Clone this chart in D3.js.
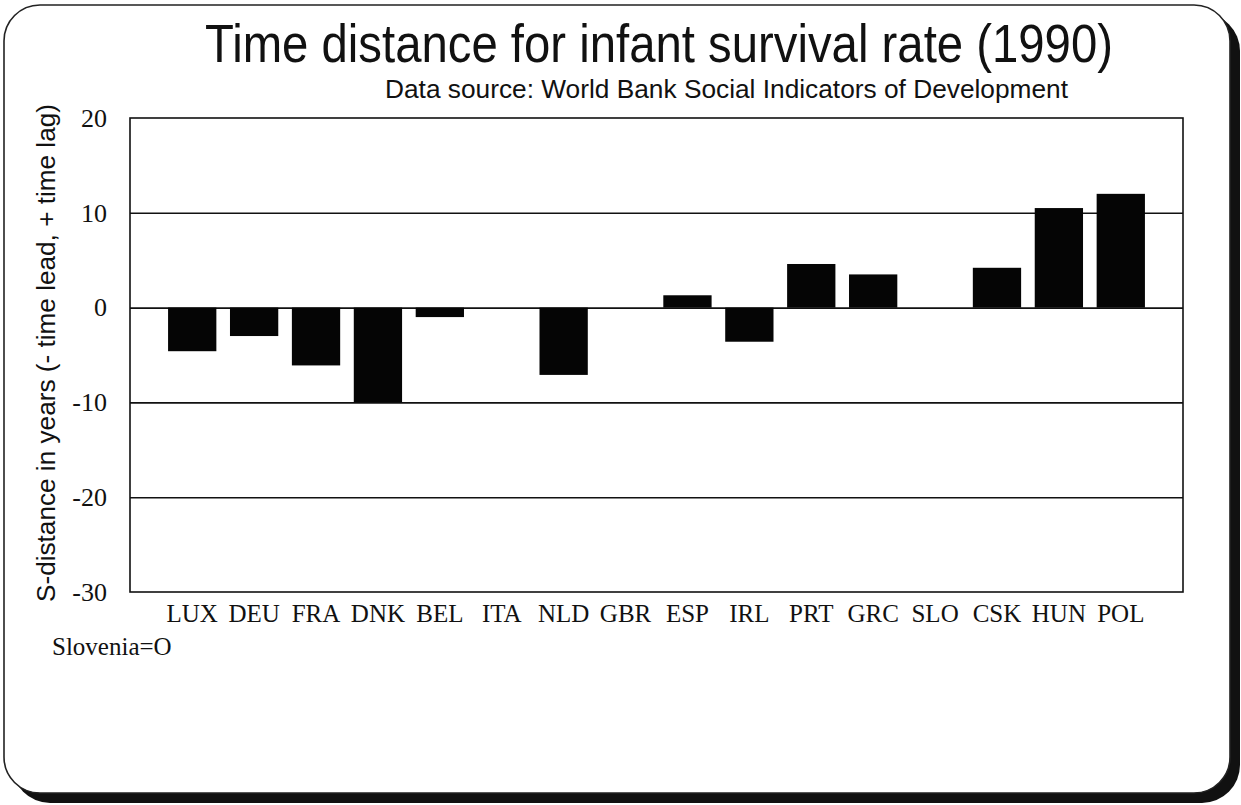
<!DOCTYPE html>
<html>
<head>
<meta charset="utf-8">
<script src="https://cdn.jsdelivr.net/npm/d3@7"></script>
<style>
  body { margin: 0; background: #fff; }
  svg { display: block; }
</style>
</head>
<body>
<div id="chart"></div>
<script>
// country codes along the x axis, in the order of the slide
const countries = ["LUX", "DEU", "FRA", "DNK", "BEL", "ITA", "NLD", "GBR",
                   "ESP", "IRL", "PRT", "GRC", "SLO", "CSK", "HUN", "POL"];
// S-distance in years relative to Slovenia (- lead, + lag)
const sDistance = [-4.6, -3.0, -6.1, -10.0, -1.0, 0, -7.1, 0,
                   1.3, -3.6, 4.6, 3.5, 0, 4.2, 10.5, 12.0];
const yTicks = [20, 10, 0, -10, -20, -30];
const gridTicks = [10, 0, -10, -20];

const titleText = "Time distance for infant survival rate (1990)";
const subtitleText = "Data source: World Bank Social Indicators of Development";
const yTitleText = "S-distance in years (- time lead, + time lag)";
const noteText = "Slovenia=O";

class BarsChart {
    constructor(target, w, h) {
        this.target = target;
        this.w = w;
        this.h = h;
        // plot box inside the slide
        this.left = 130;
        this.right = 1183;
        this.top = 118;
        this.bottom = 592;
    }
    render(cats, values) {
        let svg = d3.select(this.target)
            .append("svg")
            .attr("width", this.w)
            .attr("height", this.h);

        // slide frame: dark shadow offset behind, white card with thin edge on top
        svg.append("rect")
            .attr("x", 12).attr("y", 13)
            .attr("width", 1228).attr("height", 790)
            .attr("rx", 38).attr("ry", 38)
            .style("fill", "#111");
        svg.append("rect")
            .attr("x", 4).attr("y", 5)
            .attr("width", 1226).attr("height", 788)
            .attr("rx", 36).attr("ry", 36)
            .style("fill", "#fff")
            .style("stroke", "#222")
            .style("stroke-width", 1.6);

        let xScale = d3.scaleBand()
            .domain(cats)
            .range([this.left, this.right])
            .paddingInner(0.22)
            .paddingOuter(0.615);

        let yScale = d3.scaleLinear()
            .domain([-30, 20])
            .range([this.bottom, this.top]);

        // horizontal gridlines
        let grid = d3.axisLeft(yScale)
            .tickValues(gridTicks)
            .tickSize(-(this.right - this.left))
            .tickFormat("");
        let g = svg.append("g")
            .attr("transform", "translate(" + this.left + ",0)")
            .call(grid);
        g.select(".domain").remove();
        g.selectAll(".tick line")
            .style("stroke", "#111")
            .style("stroke-width", 1.6);

        // bars, hanging from zero
        svg.append("g")
            .selectAll("rect")
            .data(values)
            .enter()
            .append("rect")
            .attr("x", (d, i) => xScale(cats[i]))
            .attr("y", (d) => yScale(Math.max(0, d)))
            .attr("width", xScale.bandwidth())
            .attr("height", (d) => Math.abs(yScale(d) - yScale(0)))
            .style("fill", "#050505");

        // plot border
        svg.append("rect")
            .attr("x", this.left)
            .attr("y", this.top)
            .attr("width", this.right - this.left)
            .attr("height", this.bottom - this.top)
            .style("fill", "none")
            .style("stroke", "#111")
            .style("stroke-width", 1.6);

        // Y axis labels (plain hyphen, as on the slide)
        let yAxis = d3.axisLeft(yScale)
            .tickValues(yTicks)
            .tickSize(0)
            .tickPadding(23)
            .tickFormat((d) => String(d));
        let ya = svg.append("g")
            .attr("class", "axis")
            .attr("transform", "translate(" + this.left + ",0)")
            .call(yAxis);
        ya.select(".domain").remove();
        ya.selectAll("text")
            .style("font-family", "'Liberation Serif', 'Times New Roman', serif")
            .style("font-size", "26px")
            .style("fill", "#111");

        // X axis labels
        let xAxis = d3.axisBottom(xScale)
            .tickSize(0)
            .tickPadding(12);
        let xa = svg.append("g")
            .attr("class", "axis")
            .attr("transform", "translate(0," + this.bottom + ")")
            .call(xAxis);
        xa.select(".domain").remove();
        xa.selectAll("text")
            .style("font-family", "'Liberation Serif', 'Times New Roman', serif")
            .style("font-size", "25px")
            .style("fill", "#111");

        // titles, squeezed a little like the narrow slide font
        svg.append("text")
            .attr("x", 205).attr("y", 62)
            .attr("textLength", 908)
            .attr("lengthAdjust", "spacingAndGlyphs")
            .style("font-family", "'Liberation Sans', Arial, sans-serif")
            .style("font-size", "53px")
            .style("fill", "#111")
            .text(titleText);
        svg.append("text")
            .attr("x", 385).attr("y", 98)
            .attr("textLength", 683)
            .attr("lengthAdjust", "spacingAndGlyphs")
            .style("font-family", "'Liberation Sans', Arial, sans-serif")
            .style("font-size", "25px")
            .style("fill", "#111")
            .text(subtitleText);

        // rotated y title
        svg.append("text")
            .attr("transform", "translate(55,353) rotate(-90)")
            .attr("text-anchor", "middle")
            .attr("textLength", 498)
            .attr("lengthAdjust", "spacingAndGlyphs")
            .style("font-family", "'Liberation Sans', Arial, sans-serif")
            .style("font-size", "25px")
            .style("fill", "#111")
            .text(yTitleText);

        // note under the axis
        svg.append("text")
            .attr("x", 52).attr("y", 655)
            .style("font-family", "'Liberation Serif', 'Times New Roman', serif")
            .style("font-size", "25px")
            .style("fill", "#111")
            .text(noteText);
    }
}

let chart = new BarsChart(document.getElementById("chart"), 1241, 805);
chart.render(countries, sDistance);
</script>
</body>
</html>
